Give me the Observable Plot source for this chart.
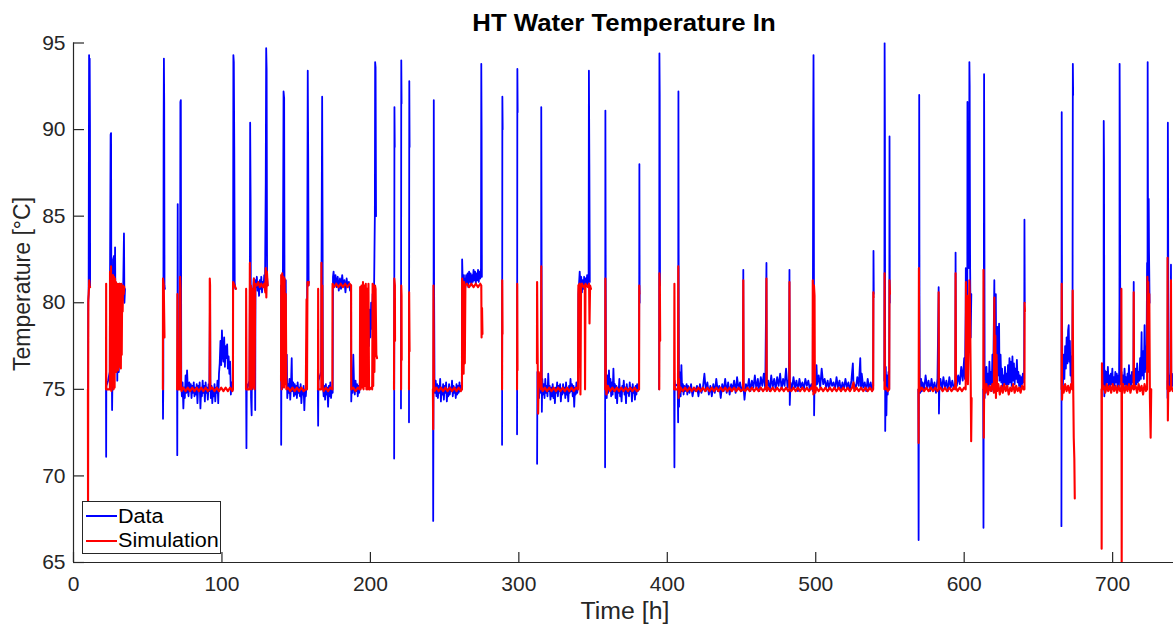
<!DOCTYPE html>
<html>
<head>
<meta charset="utf-8">
<script src="https://cdn.jsdelivr.net/npm/d3@7"></script>
<script src="https://cdn.jsdelivr.net/npm/@observablehq/plot@0.6"></script>
<style>
  html, body { margin: 0; padding: 0; background: #fff; }
  #wrap { position: relative; width: 1173px; height: 624px; overflow: hidden; font-family: "Liberation Sans", Arial, sans-serif; color: #262626; }
  #chart { position: absolute; left: 0; top: 0; }
  .abs { position: absolute; white-space: nowrap; line-height: 1; }
  #title { left: 424px; width: 400px; top: 12px; text-align: center; font-size: 23px; font-weight: bold; color: #000; transform: scaleX(1.12); }
  #xlabel { left: 525px; width: 200px; top: 600px; text-align: center; font-size: 23px; transform: scaleX(1.08); }
  #ylabel { left: 22px; top: 284px; font-size: 23px; transform: translate(-50%, -50%) rotate(-90deg); transform-origin: center; }
  #legend { left: 82px; top: 501px; width: 139px; height: 53px; box-sizing: border-box; border: 1px solid #262626; background: #fff; }
  .lline { position: absolute; left: 3px; width: 31px; height: 1.5px; }
  .ltext { position: absolute; left: 35px; font-size: 20px; line-height: 20px; color: #000; transform-origin: left center; transform: scaleX(1.08); }
</style>
</head>
<body>
<div id="wrap">
  <div id="chart"></div>
  <div id="title" class="abs"></div>
  <div id="xlabel" class="abs"></div>
  <div id="ylabel" class="abs"></div>
  <div id="legend" class="abs"></div>
</div>
<script>
// ---------- labels ----------
const titleText = "HT Water Temperature In";
const xLabelText = "Time [h]";
const yLabelText = "Temperature [°C]";
const legendNames = ["Data", "Simulation"];
const seriesColors = ["#0000ff", "#ff0000"];
const xTicks = [0, 100, 200, 300, 400, 500, 600, 700];
const yTicks = [65, 70, 75, 80, 85, 90, 95];

// ---------- measured data: [time h, temperature °C], null = gap ----------
const dataPoints = [
  [9.8,75.0],[9.9,80.0],[10.2,80.5],[10.4,90.5],[10.5,94.3],[10.7,92.0],[10.9,94.1],[11.1,90.2],[11.2,81.0],null,
  [21.9,75.0],[22.0,71.1],[22.1,75.2],[23.3,75.5],[24.4,76.0],[24.6,81.5],[25.0,89.7],[25.3,89.8],[25.5,80.0],[26.0,73.8],[26.3,76.0],[26.7,82.5],[27.3,82.7],[27.6,79.0],[28.0,83.2],[28.4,78.0],[28.6,76.0],[29.0,80.8],[29.5,75.5],[30.0,81.0],[30.5,76.0],[31.0,81.1],[31.5,80.5],[32.0,80.9],[32.5,81.0],[33.0,80.1],[33.5,81.0],[34.0,84.0],[34.3,80.0],[34.7,80.8],null,
  [60.2,75.0],[60.3,73.3],[60.5,75.5],[60.7,90.0],[60.9,94.1],[61.1,91.5],[61.3,81.0],[61.6,80.8],null,
  [69.8,75.0],[69.9,71.2],[70.0,75.0],[70.2,85.7],[70.4,75.5],[71.6,75.2],[71.8,80.0],[72.0,91.6],[72.3,91.7],[72.5,80.0],[72.6,75.3],[73.0,74.6],[73.5,75.4],[74.0,73.9],[74.5,75.1],[75.0,74.5],[75.5,75.8],[76.0,74.8],[76.5,76.1],[77.0,75.0],[77.5,74.6],[78.0,75.4],[78.5,74.9],[79.0,75.3],[79.5,74.5],[80.0,75.2],[80.5,74.8],[81.0,75.4],[81.5,74.6],[82.0,75.1],[82.5,74.7],[83.0,75.3],[83.5,74.2],[84.0,75.2],[84.5,74.9],[85.0,75.4],[85.5,73.9],[86.0,75.0],[86.5,74.6],[87.0,75.5],[87.5,74.8],[88.0,75.2],[88.5,74.3],[89.0,75.4],[89.5,74.8],[90.0,75.1],[90.5,74.4],[91.0,75.3],[91.5,74.9],[92.0,80.8],[92.2,75.6],[92.5,74.5],[93.0,75.2],[93.5,74.2],[94.0,75.0],[94.5,74.6],[95.0,75.3],[95.5,74.3],[96.0,75.1],[96.5,74.8],[97.0,75.5],[97.5,74.2],[98.0,75.9],[98.5,76.5],[99.0,77.8],[99.5,76.4],[100.0,78.4],[100.5,77.0],[101.0,76.6],[101.5,78.0],[102.0,76.3],[102.5,77.5],[103.0,76.8],[103.5,77.6],[104.0,76.2],[104.5,76.9],[105.0,75.9],[105.5,76.6],[106.0,74.7],[106.5,75.4],[107.0,74.9],[107.4,75.3],[107.5,81.0],[107.7,94.3],[108.0,93.9],[108.3,89.0],[108.6,81.2],[109.0,80.8],null,
  [116.3,75.0],[116.5,71.6],[116.7,75.3],[117.0,75.0],[118.5,75.5],[118.8,80.0],[119.0,90.4],[119.3,86.0],[119.6,74.5],[120.0,73.5],[120.3,77.5],[120.6,75.0],[121.0,80.8],[121.5,81.4],[122.0,80.6],[122.4,73.8],[122.6,81.3],[123.0,80.9],[123.5,81.5],[124.0,80.7],[124.5,81.1],[125.0,80.4],[125.5,81.3],[126.0,80.8],[126.5,81.5],[127.0,80.6],[127.5,81.2],[128.0,80.9],[128.5,81.6],[129.0,81.0],[129.5,87.0],[129.8,94.7],[130.1,93.5],[130.4,81.5],[130.8,81.0],null,
  [139.8,81.0],[139.9,71.8],[140.1,78.0],[140.5,75.0],[141.0,80.0],[141.5,92.2],[141.9,91.8],[142.2,78.0],[142.6,76.5],[143.0,81.3],[143.3,75.5],[143.7,77.0],[144.0,74.5],[144.6,75.3],[145.0,74.8],[145.5,75.6],[146.0,74.4],[146.5,75.2],[147.0,76.8],[147.3,74.9],[148.0,75.4],[148.5,74.6],[149.0,75.3],[149.5,74.7],[150.0,75.2],[150.5,74.5],[151.0,75.4],[151.5,74.8],[152.0,75.1],[152.5,74.6],[153.0,75.3],[153.5,74.2],[154.0,75.0],[154.5,74.7],[155.0,75.2],[155.5,73.8],[156.0,75.0],[156.5,74.6],[157.0,75.3],[157.4,80.5],[157.8,93.4],[158.1,88.6],[158.4,81.0],null,
  [164.6,75.0],[164.8,72.9],[165.0,75.5],[166.8,76.0],[167.2,85.0],[167.5,91.9],[167.8,84.0],[168.0,75.3],[168.5,74.6],[169.0,75.2],[169.5,74.4],[170.0,75.3],[170.5,74.7],[171.0,75.1],[171.5,74.0],[172.0,75.2],[172.5,74.6],[173.0,75.4],[173.5,74.5],[174.0,75.1],[174.6,74.8],[174.8,81.5],[175.2,81.8],[175.8,81.0],[176.5,81.6],[177.2,80.9],[178.0,81.5],[178.7,80.7],[179.5,81.4],[180.2,80.8],[181.0,81.6],[181.7,81.0],[182.5,81.3],[183.2,80.6],[184.0,81.4],[184.7,80.9],[185.5,81.2],[186.3,80.7],[187.0,81.0],[187.1,74.3],[187.5,75.4],[188.0,74.8],[188.5,77.0],[189.0,75.2],[189.5,74.7],[190.0,75.5],[190.5,74.9],[191.0,75.3],[191.5,74.6],[192.0,75.2],[192.5,74.8],[193.0,75.6],[193.5,76.5],[194.0,75.2],[194.5,77.5],[195.0,75.8],[195.5,78.2],[196.0,76.0],[196.5,78.9],[197.0,76.5],[197.5,79.5],[198.0,77.0],[198.5,79.8],[199.0,77.5],[199.5,79.6],[200.0,78.0],[200.5,80.0],[201.0,78.5],[201.5,80.5],[202.0,79.0],[202.5,81.0],[203.0,85.0],[203.2,93.9],[203.5,93.6],[203.8,85.0],null,
  [216.0,71.0],[216.2,91.3],[216.4,89.0],null,
  [220.6,73.9],[220.8,94.0],[221.0,91.5],null,
  [226.0,73.1],[226.2,92.8],[226.4,89.0],null,
  [242.2,75.0],[242.3,67.4],[242.5,75.0],[242.7,91.7],[242.9,81.0],[243.2,75.3],[243.6,74.8],[244.0,75.5],[244.5,74.6],[245.0,75.3],[245.5,74.5],[246.0,75.2],[246.5,74.8],[247.0,75.6],[247.5,74.3],[248.0,75.1],[248.5,74.7],[249.0,75.3],[249.5,74.4],[250.0,75.2],[250.5,74.8],[251.0,75.4],[251.5,74.3],[252.0,75.0],[252.5,74.6],[253.0,75.3],[253.5,74.7],[254.0,75.1],[254.5,74.9],[255.0,75.5],[255.5,74.6],[256.0,75.2],[256.5,74.8],[257.0,75.1],[257.5,74.5],[258.0,75.3],[258.5,74.7],[259.0,75.2],[259.5,74.8],[260.0,75.4],[260.5,74.9],[261.0,75.2],[261.6,75.0],[261.8,82.5],[262.2,81.2],[262.6,77.5],[263.0,81.6],[263.3,79.6],[263.6,81.4],[264.0,80.9],[264.5,81.6],[265.0,81.1],[265.5,81.7],[266.0,80.9],[266.5,81.8],[267.0,81.2],[267.5,81.7],[268.0,81.0],[268.5,81.6],[269.0,81.2],[269.5,81.9],[270.0,81.3],[270.5,81.8],[271.0,81.1],[271.5,81.7],[272.0,81.3],[272.5,81.9],[273.0,81.2],[273.5,81.8],[274.0,81.4],[274.5,82.0],[274.7,93.8],[274.9,90.0],[275.1,81.5],null,
  [288.7,71.8],[288.9,91.9],[289.1,90.0],null,
  [298.8,72.4],[299.0,93.5],[299.2,91.0],null,
  [312.3,70.7],[312.5,76.0],[312.7,75.0],[313.2,75.5],[313.6,74.5],[314.0,75.2],[314.5,74.8],[315.0,76.5],[315.1,91.3],[315.3,84.0],[315.5,73.7],[315.8,75.6],[316.3,74.7],[316.8,75.3],[317.3,74.5],[317.8,75.6],[318.3,74.8],[318.8,75.2],[319.3,74.6],[319.8,75.9],[320.3,74.9],[320.8,75.2],[321.3,74.4],[321.8,75.1],[322.3,74.6],[322.8,75.3],[323.3,74.5],[323.8,75.0],[324.3,74.2],[324.8,75.1],[325.3,74.8],[325.8,75.4],[326.3,74.6],[326.8,75.2],[327.3,74.9],[327.8,75.3],[328.3,74.3],[328.8,75.0],[329.3,74.7],[329.8,75.3],[330.3,74.8],[330.8,75.1],[331.3,74.5],[331.8,75.4],[332.3,74.7],[332.8,75.0],[333.3,74.3],[333.8,75.2],[334.3,74.8],[334.8,75.6],[335.3,74.9],[335.8,75.3],[336.3,74.6],[336.8,75.2],[337.3,74.0],[337.8,75.1],[338.3,74.7],[338.8,75.4],[339.3,74.8],[339.8,75.1],[340.1,80.5],[340.5,81.0],[341.0,81.8],[341.5,80.9],[342.0,81.5],[342.5,80.6],[343.0,81.3],[343.5,80.8],[344.0,81.5],[344.5,80.9],[345.0,81.4],[345.5,81.0],[346.0,81.6],[346.5,81.0],[347.0,81.3],[347.2,93.4],[347.5,88.0],[347.8,81.2],null,
  [358.1,70.5],[358.3,91.1],[358.5,82.0],[358.7,75.2],[359.2,74.5],[359.7,75.8],[360.2,74.8],[360.7,76.1],[361.2,75.0],[361.7,75.6],[362.2,74.6],[362.7,75.4],[363.2,74.7],[363.7,76.2],[364.2,74.9],[364.7,75.3],[365.2,74.5],[365.7,75.2],[366.2,74.2],[366.7,75.1],[367.2,74.8],[367.7,75.6],[368.2,74.6],[368.7,75.0],[369.2,74.3],[369.7,75.2],[370.2,74.9],[370.7,75.5],[371.2,74.7],[371.7,75.1],[372.2,74.2],[372.7,75.3],[373.2,74.8],[373.7,75.0],[374.2,74.6],[374.7,75.4],[375.2,74.9],[375.7,75.1],[376.2,74.3],[376.7,75.3],[377.2,74.8],[377.7,75.0],[378.2,74.4],[378.7,75.2],[379.2,74.7],[379.7,75.3],[380.2,74.9],[380.7,75.1],[381.0,75.3],[381.2,88.0],[381.4,80.0],null,
  [394.5,75.0],[394.7,94.4],[394.9,92.0],[395.1,81.0],null,
  [404.6,75.0],[404.8,70.5],[405.0,75.5],[405.3,75.2],[407.0,75.3],[407.3,73.1],[407.5,92.2],[407.7,80.0],[407.9,74.0],[408.2,76.0],[408.6,75.2],[409.0,74.6],[409.5,76.4],[410.0,74.9],[410.5,75.3],[411.0,74.7],[411.5,75.2],[412.0,74.9],[413.0,75.3],[413.5,74.7],[414.0,75.2],[415.0,74.8],[416.0,75.3],[417.0,74.6],[418.0,75.1],[419.0,74.9],[420.0,75.2],[421.0,74.6],[422.0,75.3],[423.0,74.8],[424.0,75.1],[425.0,75.9],[426.0,74.9],[427.0,75.4],[428.0,74.7],[429.0,75.2],[430.0,74.6],[431.0,75.3],[432.0,74.8],[433.0,75.6],[434.0,74.9],[435.0,75.2],[436.0,74.5],[437.0,75.3],[438.0,74.9],[439.0,75.6],[440.0,74.8],[441.0,75.4],[442.0,74.7],[443.0,75.3],[444.0,75.0],[445.0,75.5],[446.0,74.8],[447.0,75.7],[448.0,75.0],[449.0,75.4],[450.0,74.9],[451.0,75.2],[451.2,81.9],[451.4,75.1],[452.0,74.4],[453.0,75.3],[454.0,75.0],[455.0,75.6],[456.0,74.9],[457.0,75.5],[458.0,75.1],[459.0,75.8],[460.0,75.0],[461.0,75.6],[462.0,74.9],[463.0,75.7],[464.0,75.2],[465.0,75.9],[466.0,75.0],[466.8,82.3],[467.0,75.2],[468.0,75.5],[469.0,74.9],[470.0,75.8],[471.0,75.1],[472.0,75.6],[473.0,75.0],[474.0,75.7],[475.0,75.2],[476.0,75.9],[477.0,75.0],[478.0,75.6],[479.0,75.2],[480.0,76.2],[481.0,75.1],[482.0,75.6],[482.3,81.9],[482.5,74.1],[483.0,75.4],[484.0,75.0],[485.0,75.7],[486.0,75.1],[487.0,75.5],[488.0,74.9],[489.0,75.6],[490.0,75.1],[491.0,75.4],[492.0,75.0],[493.0,75.6],[494.0,75.2],[495.0,75.5],[496.0,75.0],[497.0,75.3],[498.0,74.9],[498.3,90.0],[498.5,94.3],[498.7,88.0],[498.9,73.5],[499.2,75.6],[500.0,75.2],[500.5,76.4],[501.0,75.3],[502.0,75.8],[503.0,75.1],[504.0,76.2],[505.0,75.3],[506.0,75.6],[507.0,75.1],[508.0,75.5],[509.0,75.0],[510.0,75.6],[511.0,75.2],[512.0,75.4],[513.0,75.0],[514.0,75.7],[515.0,75.1],[516.0,75.5],[517.0,74.9],[518.0,75.4],[519.0,75.0],[520.0,75.6],[521.0,75.1],[522.0,75.4],[523.0,74.9],[524.0,75.5],[525.0,76.5],[525.5,75.1],[526.0,75.3],[527.0,75.0],[528.0,75.7],[529.0,75.2],[530.0,76.8],[530.5,75.0],[531.0,75.9],[532.0,75.1],[533.0,75.4],[534.0,74.9],[535.0,75.6],[536.0,75.0],[537.0,75.4],[538.0,74.9],[538.7,75.2],[538.9,83.0],[539.1,80.5],null,
  [546.2,75.5],[546.4,95.0],[546.6,90.0],[546.8,72.6],[547.2,76.3],[547.6,73.5],[548.0,75.8],[548.5,74.7],[549.0,76.0],[549.5,75.0],[549.7,89.6],[549.9,80.0],null,
  [569.1,75.0],[569.3,66.3],[569.5,76.0],[569.7,92.0],[569.9,80.0],[570.1,75.3],[570.5,74.8],[571.0,75.6],[571.5,74.9],[572.0,75.4],[573.0,75.0],[574.0,75.8],[575.0,75.1],[576.0,75.5],[577.0,74.9],[578.0,75.6],[579.0,75.0],[580.0,75.4],[581.0,74.8],[582.0,75.6],[582.8,80.9],[583.0,73.6],[583.3,75.2],[584.0,75.6],[585.0,75.0],[586.0,75.7],[587.0,75.1],[588.0,75.5],[589.0,74.9],[590.0,75.7],[591.0,75.1],[592.0,75.5],[593.0,75.0],[594.0,75.4],[594.2,82.9],[594.5,76.0],[595.0,75.2],[596.0,75.8],[597.0,75.3],[598.0,76.3],[599.0,75.5],[600.0,76.8],[600.5,75.6],[601.0,79.5],[601.1,82.0],[601.4,77.0],[602.1,80.0],[602.2,91.6],[602.3,84.0],[603.3,82.0],[603.5,93.9],[603.7,92.5],[603.8,88.0],[604.0,82.0],[604.4,78.0],[604.8,80.5],null,
  [612.8,75.0],[613.0,67.0],[613.2,76.0],[613.4,93.2],[613.6,85.0],[613.8,74.5],[614.0,76.0],[614.5,75.1],[615.0,76.3],[615.5,74.8],[616.0,75.9],[616.5,75.0],[617.0,76.6],[617.5,75.3],[618.0,76.0],[618.5,74.9],[619.0,77.0],[619.5,75.4],[620.0,79.0],[620.3,81.3],[620.6,76.5],[621.3,80.5],[621.6,76.0],[622.4,78.6],[622.7,75.8],[623.5,78.8],[623.8,75.5],[624.5,77.0],[625.0,75.4],[625.5,76.2],[626.0,75.1],[626.5,75.8],[627.0,75.2],[627.5,76.3],[628.0,75.3],[628.5,75.9],[629.0,75.0],[629.5,76.4],[630.0,75.3],[630.5,76.8],[631.0,75.4],[631.5,76.6],[632.0,75.2],[632.5,76.9],[633.0,75.5],[633.5,76.5],[634.0,75.3],[634.5,76.2],[635.0,75.6],[635.5,76.7],[636.0,75.4],[636.5,76.0],[637.0,75.2],[637.5,75.8],[638.0,75.1],[638.5,75.7],[639.0,75.3],[639.5,75.9],[640.0,75.4],[640.4,75.6],[640.6,84.8],[640.8,80.0],null,
  [665.5,67.1],[665.7,91.0],[665.9,80.0],[666.1,76.0],[666.5,75.2],[667.0,77.0],[667.5,75.6],[668.0,77.5],[668.5,76.2],[669.0,78.0],[669.5,76.5],[670.0,78.4],[670.4,78.7],[670.8,76.6],[671.2,77.8],[671.6,75.8],[672.0,76.9],[672.4,75.4],[672.8,75.2],[673.0,80.0],[673.2,93.8],[673.4,92.0],null,
  [693.8,75.0],[693.9,76.0],[694.0,90.5],[694.2,88.0],[694.4,74.6],[694.8,76.1],[695.3,74.9],[695.8,76.0],[696.3,75.4],[696.8,76.3],[697.3,75.2],[697.8,75.8],[698.3,75.1],[698.8,75.9],[699.3,75.3],[699.8,76.2],[700.3,75.0],[700.8,75.7],[701.3,75.2],[701.8,76.0],[702.3,75.4],[702.8,75.9],[703.3,75.1],[703.8,75.8],[704.3,75.2],[704.6,80.0],[704.7,93.8],[704.9,89.0],[705.2,76.0],[705.6,75.3],[706.0,76.0],[706.5,75.2],[707.0,75.8],[707.5,75.1],[708.0,76.2],[708.5,75.3],[709.0,75.7],[709.5,75.0],[710.0,75.9],[710.5,75.2],[711.0,76.4],[711.5,75.3],[712.0,75.8],[712.5,75.1],[713.0,76.0],[713.5,75.4],[714.0,76.0],[714.2,81.2],[714.4,75.5],[715.0,75.1],[715.5,76.2],[716.0,75.3],[716.5,76.5],[717.0,75.4],[717.5,76.0],[718.0,75.5],[718.5,76.8],[719.0,75.6],[719.5,78.3],[719.8,75.8],[720.5,77.2],[721.0,75.6],[721.5,78.7],[721.8,76.0],[722.5,77.5],[722.8,76.2],[723.2,82.3],[723.5,80.0],[723.6,93.9],[723.8,85.9],[724.0,81.5],[724.3,86.0],[724.5,83.0],[724.9,80.0],null,
  [736.9,75.5],[737.0,74.5],[737.2,90.4],[737.4,85.0],[737.6,75.0],[738.0,75.8],[738.5,75.2],[739.0,76.0],[739.3,82.2],[739.5,75.3],[740.0,75.9],[740.5,75.2],[741.0,75.6]
];

// ---------- simulation: [time h, temperature °C], null = gap ----------
const simPoints = [
  [9.7,75.0],[9.8,67.5],[9.9,75.0],[10.0,80.2],[10.4,80.8],[10.6,81.3],[10.9,81.0],[11.2,80.9],null,
  [21.9,75.0],[22.0,81.1],[22.1,75.0],[24.5,75.0],[24.6,81.8],[24.8,75.0],[25.3,82.1],[25.5,74.9],[25.9,81.0],[26.2,75.2],[26.6,81.6],[27.0,75.0],[27.3,81.5],[27.7,75.1],[28.0,81.4],[28.3,76.2],[28.6,81.2],[28.9,76.0],[29.2,81.0],[29.5,76.4],[29.8,81.1],[30.1,76.1],[30.4,80.9],[30.7,76.3],[31.0,81.1],[31.3,76.5],[31.6,81.0],[31.9,76.2],[32.2,81.1],[32.5,77.0],[32.8,81.0],[33.1,79.5],[33.4,81.0],[33.8,80.5],[34.2,80.9],null,
  [60.2,75.0],[60.3,81.4],[60.8,81.0],[61.3,78.0],null,
  [69.8,75.0],[70.0,80.5],[70.2,75.0],[71.5,75.0],[71.8,81.5],[72.1,80.8],[72.4,75.3],[72.8,74.9],[74.0,75.1],[75.5,74.9],[77.0,75.1],[78.5,74.9],[80.0,75.1],[81.5,74.9],[83.0,75.1],[84.5,74.9],[86.0,75.1],[87.5,74.9],[89.0,75.1],[90.5,74.9],[91.7,75.0],[91.8,81.4],[92.0,81.0],[92.1,75.0],[93.5,75.1],[95.0,74.9],[96.5,75.1],[98.0,74.9],[99.5,75.1],[101.0,74.9],[102.5,75.1],[104.0,74.9],[105.5,75.1],[107.0,74.9],[107.4,75.0],[107.5,81.2],[108.5,81.0],[109.5,80.8],null,
  [116.2,75.0],[116.3,80.8],[116.6,75.0],[118.5,75.0],[118.8,82.3],[119.1,75.1],[119.5,81.0],[119.9,75.0],[120.5,80.8],[121.0,75.1],[121.5,81.4],[122.0,75.0],[122.4,81.1],[123.5,81.0],[124.5,81.2],[125.5,80.9],[126.5,81.1],[127.5,80.9],[128.5,81.1],[129.2,80.6],[129.5,82.0],[129.9,80.3],[130.3,81.8],[130.8,81.0],null,
  [139.8,75.5],[139.9,81.6],[140.2,75.0],[140.6,81.7],[141.0,75.2],[141.4,81.5],[141.8,75.1],[142.2,81.4],[142.6,75.3],[143.0,80.5],[143.4,75.0],[144.5,75.1],[146.0,74.9],[147.5,75.1],[149.0,74.9],[150.5,75.1],[152.0,74.9],[153.5,75.1],[155.0,74.9],[156.5,75.0],[157.0,80.2],[157.3,75.0],[157.6,81.2],[158.2,81.0],[158.6,81.2],null,
  [164.7,75.0],[164.8,80.8],[165.0,75.0],[166.9,75.0],[167.0,82.3],[167.3,75.2],[167.6,81.0],[167.9,75.1],[168.5,74.9],[170.0,75.1],[171.5,74.9],[173.0,75.1],[174.4,75.0],[174.5,81.1],[175.5,80.9],[177.0,81.1],[178.5,80.9],[180.0,81.1],[181.5,80.9],[183.0,81.1],[184.5,80.9],[186.0,81.1],[187.0,81.0],[187.1,75.0],[188.5,75.1],[190.0,74.9],[191.5,75.1],[192.9,75.0],[193.1,80.9],[193.4,75.0],[194.0,81.0],[194.4,75.1],[195.0,81.2],[195.4,75.0],[196.0,81.0],[196.4,75.2],[196.9,81.1],[197.3,75.0],[197.8,80.8],[198.2,75.0],[198.7,81.1],[199.1,75.0],[199.6,75.0],[200.5,75.1],[201.2,75.0],[201.5,81.1],[201.9,75.2],[202.3,81.0],[202.7,76.0],[203.1,81.0],[203.5,80.8],[204.0,77.0],[204.5,76.8],null,
  [215.9,75.0],[216.1,81.4],[216.5,81.0],[216.6,77.8],null,
  [220.7,75.0],[220.8,81.0],[221.0,80.4],[221.1,76.7],null,
  [226.0,75.0],[226.1,80.6],[226.4,77.2],null,
  [242.1,75.0],[242.3,72.7],[242.5,81.0],[242.8,75.3],[243.2,74.9],[244.5,75.1],[246.0,74.9],[247.5,75.1],[249.0,74.9],[250.5,75.1],[252.0,74.9],[253.5,75.1],[255.0,74.9],[256.5,75.1],[258.0,74.9],[259.5,75.1],[261.0,74.9],[261.7,75.0],[261.8,81.4],[262.3,81.0],[262.8,75.9],[263.2,81.2],[263.6,76.5],[264.0,81.0],[265.0,81.1],[266.5,80.9],[268.0,81.1],[269.5,80.9],[271.0,81.1],[272.5,80.9],[274.0,81.1],[274.7,81.0],[274.9,78.0],[275.2,79.7],[275.5,78.2],null,
  [288.7,75.0],[288.8,81.3],[289.0,78.2],null,
  [298.8,75.0],[298.9,81.1],[299.1,76.1],null,
  [312.2,76.5],[312.3,81.2],[312.6,77.6],[313.0,73.6],[313.4,76.0],[314.9,75.0],[315.1,82.1],[315.3,75.2],[316.0,74.9],[317.5,75.1],[319.0,74.9],[320.5,75.1],[322.0,74.9],[323.5,75.1],[325.0,74.9],[326.5,75.1],[328.0,74.9],[329.5,75.1],[331.0,74.9],[332.5,75.1],[334.0,74.9],[335.5,75.1],[337.0,74.9],[338.5,75.1],[339.9,75.0],[340.1,81.0],[341.0,81.1],[341.5,74.7],[341.9,81.0],[342.5,81.1],[343.5,80.9],[344.4,81.0],[344.6,75.0],[344.9,81.1],[345.5,81.0],[346.5,80.9],[347.3,81.1],[347.6,78.8],[348.0,81.0],[348.6,80.8],null,
  [358.2,75.0],[358.3,81.4],[358.6,75.3],[359.0,74.7],[360.0,75.2],[361.5,74.9],[363.0,75.1],[364.5,74.9],[366.0,75.1],[367.5,74.9],[369.0,75.1],[370.5,74.9],[372.0,75.1],[373.5,74.9],[375.0,75.1],[376.5,74.9],[378.0,75.1],[379.5,74.9],[381.0,75.0],[381.1,81.0],[381.3,80.5],null,
  [394.6,75.0],[394.7,81.7],[395.0,81.1],[395.2,77.8],null,
  [404.6,75.0],[404.8,81.1],[405.0,75.2],[405.3,75.0],[407.2,75.0],[407.4,82.1],[407.6,74.5],[407.9,75.6],[408.3,74.8],[409.0,75.1],[410.5,74.9],[412.0,75.1],[413.5,74.9],[415.0,75.1],[416.5,74.9],[418.0,75.1],[419.5,74.9],[421.0,75.1],[422.5,74.9],[424.0,75.1],[425.5,74.9],[427.0,75.1],[428.5,74.9],[430.0,75.1],[431.5,74.9],[433.0,75.1],[434.5,74.9],[436.0,75.1],[437.5,74.9],[439.0,75.1],[440.5,74.9],[442.0,75.1],[443.5,74.9],[445.0,75.1],[446.5,74.9],[448.0,75.1],[449.5,74.9],[451.0,75.0],[451.2,81.3],[451.4,75.0],[452.5,74.9],[454.0,75.1],[455.5,74.9],[457.0,75.1],[458.5,74.9],[460.0,75.1],[461.5,74.9],[463.0,75.1],[464.5,74.9],[466.0,75.1],[466.7,75.0],[466.8,81.4],[467.0,74.9],[468.0,75.1],[469.5,74.9],[471.0,75.1],[472.5,74.9],[474.0,75.1],[475.5,74.9],[477.0,75.1],[478.5,74.9],[480.0,75.1],[481.5,74.9],[482.2,75.0],[482.3,81.2],[482.5,75.0],[483.5,74.9],[485.0,75.1],[486.5,74.9],[488.0,75.1],[489.5,74.9],[491.0,75.1],[492.5,74.9],[494.0,75.1],[495.5,74.9],[497.0,75.1],[497.9,75.0],[498.0,81.3],[498.4,74.7],[498.8,81.0],[499.2,80.4],[499.4,75.2],[499.7,74.8],[500.5,75.1],[502.0,74.9],[503.5,75.1],[505.0,74.9],[506.5,75.1],[508.0,74.9],[509.5,75.1],[511.0,74.9],[512.5,75.1],[514.0,74.9],[515.5,75.1],[517.0,74.9],[518.5,75.1],[520.0,74.9],[521.5,75.1],[523.0,74.9],[524.5,75.1],[525.5,75.4],[526.0,74.9],[527.5,75.1],[529.0,74.9],[530.5,75.1],[532.0,74.9],[533.5,75.1],[535.0,74.9],[536.5,75.1],[538.0,74.9],[538.7,75.0],[538.8,80.6],[539.0,80.3],null,
  [546.3,75.0],[546.4,81.7],[546.6,75.0],[547.5,75.1],[548.5,74.9],[549.5,75.0],[549.7,81.3],[550.0,80.5],null,
  [569.2,75.0],[569.3,71.9],[569.5,82.0],[569.7,75.3],[570.2,74.9],[571.5,75.1],[573.0,74.9],[574.5,75.1],[576.0,74.9],[577.5,75.1],[579.0,74.9],[580.5,75.1],[582.0,74.9],[582.7,75.0],[582.8,80.6],[583.0,75.0],[584.0,75.1],[585.5,74.9],[587.0,75.1],[588.5,74.9],[590.0,75.1],[591.5,74.9],[593.0,75.1],[594.0,75.0],[594.2,81.7],[594.5,75.1],[595.5,74.9],[597.0,75.1],[598.5,74.9],[600.0,75.1],[601.0,75.0],[601.2,81.2],[601.5,75.5],[602.0,80.4],[602.5,75.3],[603.5,81.3],[603.9,80.0],[604.3,76.5],[604.7,72.0],[605.0,74.5],null,
  [612.9,75.0],[613.0,81.9],[613.2,72.2],[613.5,75.5],[614.0,74.8],[615.0,75.3],[616.0,74.7],[617.0,75.2],[618.0,74.9],[619.0,75.3],[620.0,74.8],[620.3,80.3],[620.6,76.0],[621.0,78.1],[621.4,74.5],[621.8,77.0],[622.2,74.9],[623.0,75.3],[624.0,74.7],[625.0,75.2],[626.0,74.8],[627.0,75.3],[628.0,74.9],[629.0,75.2],[630.0,74.7],[631.0,75.1],[632.0,74.9],[633.0,75.3],[634.0,74.8],[635.0,75.2],[636.0,74.9],[637.0,75.1],[638.0,74.8],[639.0,75.2],[640.0,75.0],[640.6,75.0],[640.7,80.0],[640.9,79.5],null,
  [665.6,75.0],[665.7,81.1],[665.9,74.4],[666.3,75.2],[667.0,74.8],[668.0,75.3],[669.0,74.9],[670.0,75.2],[671.0,74.8],[672.0,75.3],[672.8,75.0],[673.1,80.7],[673.4,75.5],[673.8,72.2],[674.2,71.0],[674.5,68.7],null,
  [692.5,75.0],[692.6,65.8],[692.8,76.5],[693.2,75.0],[694.0,75.2],[695.0,74.8],[696.0,75.3],[697.0,74.9],[698.0,75.2],[699.0,74.8],[700.0,75.3],[701.0,74.9],[702.0,75.2],[703.0,74.8],[704.0,75.2],[705.0,74.9],[705.8,75.0],[705.9,80.8],[706.1,65.0],[706.3,75.0],[707.0,75.3],[708.0,74.8],[709.0,75.2],[710.0,74.9],[711.0,75.3],[712.0,74.8],[713.0,75.2],[714.1,75.0],[714.2,80.6],[714.4,75.0],[715.5,75.2],[716.5,74.8],[717.5,75.3],[718.5,74.9],[719.5,75.2],[720.5,74.7],[721.5,75.3],[722.5,74.9],[723.2,75.0],[723.4,81.5],[723.7,76.0],[724.0,81.2],[724.3,78.0],[724.7,80.5],[725.1,74.5],[725.6,72.2],[726.0,75.0],null,
  [736.9,75.0],[737.0,82.6],[737.2,73.2],[737.5,75.2],[738.5,74.9],[739.2,75.2],[739.3,81.3],[739.5,75.1],[740.5,74.9],[741.0,75.1]
];

// ---------- build rows ----------
const toRows = (pts) => pts.map(p => p ? {t: p[0], v: p[1]} : {t: NaN, v: NaN});
const dataRows = toRows(dataPoints);
const simRows = toRows(simPoints);

const W = 1173, H = 624;
const mL = 73, mR = 0, mT = 42.5, mB = 62;
const innerW = W - mL - mR, innerH = H - mT - mB;
const axisColor = "#262626";

const chart = Plot.plot({
  width: W, height: H,
  marginLeft: mL, marginRight: mR, marginTop: mT, marginBottom: mB,
  style: {fontFamily: "'Liberation Sans', Arial, sans-serif", fontSize: "21px", color: axisColor, background: "#fff", overflow: "visible"},
  x: {domain: [0, 741]},
  y: {domain: [65, 95]},
  marks: [
    Plot.line(dataRows, {x: "t", y: "v", stroke: seriesColors[0], strokeWidth: 1.8, clip: true}),
    Plot.line(simRows, {x: "t", y: "v", stroke: seriesColors[1], strokeWidth: 2.1, clip: true}),
    Plot.ruleY([65], {stroke: axisColor, strokeWidth: 1.2}),
    Plot.ruleX([0], {stroke: axisColor, strokeWidth: 1.2}),
    Plot.tickX(xTicks, {x: d => d, stroke: axisColor, strokeWidth: 1.2, insetTop: innerH - 10}),
    Plot.tickY(yTicks, {y: d => d, stroke: axisColor, strokeWidth: 1.2, insetRight: innerW - 11}),
    Plot.axisX(xTicks, {tickSize: 0, tickPadding: 14, label: null, fill: axisColor}),
    Plot.axisY(yTicks, {tickSize: 0, tickPadding: 8, label: null, fill: axisColor})
  ]
});
document.getElementById("chart").appendChild(chart);

// ---------- text chrome ----------
document.getElementById("title").textContent = titleText;
document.getElementById("xlabel").textContent = xLabelText;
document.getElementById("ylabel").textContent = yLabelText;

const legend = document.getElementById("legend");
legendNames.forEach((name, i) => {
  const line = document.createElement("div");
  line.className = "lline";
  line.style.top = (13 + i * 25) + "px";
  line.style.background = seriesColors[i];
  legend.appendChild(line);
  const txt = document.createElement("div");
  txt.className = "ltext";
  txt.style.top = (4 + i * 24) + "px";
  txt.textContent = name;
  legend.appendChild(txt);
});
</script>
</body>
</html>
